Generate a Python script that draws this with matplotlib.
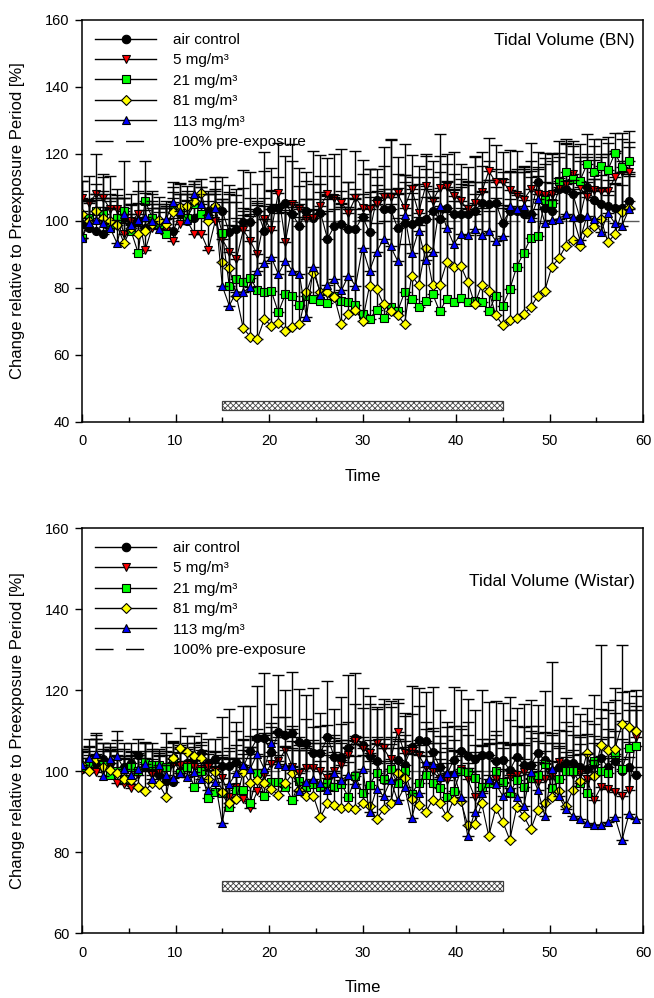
import numpy as np
import matplotlib.pyplot as plt
from matplotlib.lines import Line2D
from matplotlib.patches import Rectangle

plt.rcParams['font.family'] = ['Liberation Sans', 'DejaVu Sans']
plt.rcParams['hatch.linewidth'] = 0.6

labels = ['air control', '5 mg/m³', '21 mg/m³', '81 mg/m³', '113 mg/m³']
colors = ['#000000', '#ff0000', '#00ff00', '#ffff00', '#0000ff']
markers = ['o', 'v', 's', 'D', '^']
msizes = [5.8, 6.0, 5.4, 5.2, 6.0]

# ---- Tidal Volume (BN), one point every 0.75 min
time_bn = np.arange(79) * 0.75
air_bn = [99, 98, 97, 96, 99, 100, 101, 99, 100, 98, 101, 99, 97, 97, 102, 100, 101, 102, 103, 104,
          103, 96.6, 97.5, 99.7, 99.7, 103, 97, 103.7, 104, 105.4, 102, 98.5, 103, 101, 102.5, 94.7, 98.5, 99, 97.5, 97.6,
          101.3, 96.6, 106.4, 103.5, 103.5, 98, 99.5, 99, 100, 100.5, 103, 100.5, 104, 102, 102, 102, 103, 105.4, 105, 105.5,
          99.5, 103, 103, 102, 102, 111.6, 104, 103, 109.4, 109.4, 108, 101, 110, 106.4, 105, 104.4, 104, 104, 106]
mg5_bn = [107, 105.5, 108, 107, 103.5, 103.5, 96, 100, 102, 91.3, 98, 99, 97, 94, 99, 100, 96.2, 96.2, 91.3, 100,
          94.5, 90.8, 88.6, 97.3, 94, 90, 100.7, 97.3, 108.4, 93.7, 105, 103.7, 100.5, 101, 104.6, 107.9, 107, 105.5, 102.5, 107,
          104, 103.5, 105, 107.2, 107.2, 108.2, 104, 109.6, 102.5, 110.4, 106, 109.9, 110, 107.5, 106, 103.5, 105.5, 108.6, 114.9, 111.6,
          111.6, 109.2, 107.6, 106.4, 109.4, 108, 107.7, 108, 110, 111, 113.9, 110, 107.2, 109.2, 109, 109, 113, 114.6, 114.6]
mg21_bn = [95, 101, 103, 102, 98, 101, 103, 97, 90.5, 106, 101, 99, 96, 104, 103, 101, 105, 102, 101, 104,
           96.5, 80.6, 82.8, 81.8, 83, 79.3, 78.8, 79, 72.7, 78.2, 77.7, 75, 77.7, 76.7, 76, 75.5, 77.7, 76.2, 75.9, 75,
           72.2, 70.7, 73.5, 71, 74.2, 73, 78.7, 76.7, 74.2, 76.2, 78.2, 73, 76.7, 75.9, 76.9, 75.9, 76, 75.9, 73, 77.7,
           74.7, 79.6, 86.4, 90.5, 95, 95.5, 106.4, 105.4, 111.9, 114.5, 112.4, 111.9, 116.9, 114.6, 116.4, 115.2, 120.3, 116.2, 117.8]
mg81_bn = [102, 100, 103, 101, 100, 98.7, 93.3, 98, 96, 97, 99, 100.2, 99, 102.6, 104.3, 104.5, 106, 108.4, 100, 104.5,
           87.6, 86.1, 77.7, 67.9, 65.5, 64.8, 70.7, 68.7, 69.5, 67.3, 68.3, 69.2, 78.7, 84.6, 78.7, 78.7, 77.2, 69.2, 72.2, 73.5,
           70.2, 80.6, 79.6, 75.2, 73.2, 71.9, 69.2, 83.7, 80.9, 91.9, 80.9, 80.9, 87.6, 86.4, 86.6, 81.9, 75.2, 80.9, 79.2, 71.9,
           68.9, 70.5, 70.9, 72.2, 74.2, 77.7, 79.2, 86.4, 88.8, 92.6, 94.4, 92.6, 96.8, 98.6, 100.6, 93.6, 96.1, 102.7, 104]
mg113_bn = [95, 99.3, 100.3, 99.3, 98, 93.3, 102, 98.7, 100.3, 101.3, 100, 97.6, 100.5, 105.6, 103, 100.3, 108, 105.2, 101.9, 103.9,
            80.6, 74.7, 78.8, 78.7, 80.4, 85.1, 87.4, 89.1, 84.1, 88.1, 85.1, 84.1, 71.2, 86.3, 78, 81, 82.7, 79.3, 83.7, 80.6,
            92, 85.1, 90.8, 94.5, 92.4, 88.1, 101.7, 90.4, 97.1, 88.4, 90.8, 104.6, 98, 93.1, 96, 95.7, 97.5, 95.7, 97.1, 94.1,
            95.5, 104.6, 103.6, 104.6, 101, 106.6, 99.5, 100.3, 100.7, 102, 101.3, 94.3, 101.5, 100.5, 96.7, 102.3, 99.3, 98.6, 103.5]

air_bn_err = [13, 8, 10, 18, 8, 7, 6, 9, 12, 20, 8, 6, 7, 10, 6, 9, 7, 8, 6, 9,
              10, 14, 12, 10, 15, 8, 18, 12, 9, 14, 16, 12, 9, 20, 11, 13, 15, 10, 14, 12,
              17, 19, 9, 13, 21, 16, 12, 14, 11, 15, 10, 19, 13, 12, 8, 14, 16, 11, 13, 10,
              15, 12, 18, 14, 16, 9, 13, 17, 11, 14, 12, 18, 10, 16, 15, 19, 17, 14, 16]
mg5_bn_err = [5, 8, 12, 6, 10, 6, 8, 5, 7, 12, 6, 5, 9, 7, 6, 8, 11, 5, 10, 8,
              12, 15, 10, 18, 8, 16, 20, 12, 15, 9, 18, 12, 14, 10, 15, 11, 13, 16, 9, 14,
              10, 12, 8, 15, 17, 11, 19, 10, 14, 9, 12, 16, 10, 13, 11, 8, 14, 12, 10, 11,
              9, 12, 8, 10, 14, 8, 11, 10, 9, 12, 10, 8, 12, 9, 10, 11, 8, 10, 9]
mg21_bn_err = [6, 5, 8, 5, 10, 6, 15, 5, 8, 6, 7, 5, 9, 6, 8, 5, 7, 6, 5, 8,
               10, 28, 25, 22, 24, 26, 28, 30, 32, 26, 28, 30, 29, 27, 35, 32, 30, 28, 31, 33,
               30, 34, 26, 29, 31, 28, 35, 30, 27, 31, 29, 28, 26, 30, 27, 29, 32, 28, 30, 27,
               30, 27, 22, 25, 20, 18, 14, 15, 12, 10, 10, 11, 9, 10, 8, 10, 6, 10, 9]
mg81_bn_err = [7, 6, 5, 8, 6, 9, 6, 7, 5, 8, 6, 7, 5, 6, 7, 6, 5, 4, 8, 5,
               18, 22, 28, 35, 38, 40, 30, 35, 33, 36, 34, 32, 28, 22, 30, 28, 30, 36, 32, 33,
               30, 28, 31, 33, 35, 38, 24, 27, 18, 28, 26, 22, 24, 23, 26, 30, 27, 28, 33, 35,
               35, 33, 32, 30, 28, 26, 25, 20, 20, 17, 15, 16, 12, 14, 13, 14, 15, 12, 10]
mg113_bn_err = [8, 7, 6, 5, 6, 7, 5, 6, 5, 7, 6, 5, 4, 6, 5, 6, 4, 5, 6, 5,
                20, 24, 22, 23, 21, 18, 17, 16, 20, 17, 19, 20, 30, 17, 24, 22, 21, 25, 20, 23,
                16, 22, 18, 15, 17, 20, 12, 18, 16, 21, 18, 10, 14, 16, 15, 15, 14, 16, 15, 16,
                17, 10, 11, 10, 12, 9, 12, 11, 12, 10, 11, 14, 10, 12, 13, 10, 12, 12, 10]

# ---- Tidal Volume (Wistar)
time_wi = np.arange(80) * 0.75
air_wi = [100.4, 102, 101, 103, 102, 100, 101, 102, 104, 101, 100, 99, 97.5, 97.4, 100, 102, 103, 104.4, 102, 103,
          101.3, 101.3, 102.2, 101, 105, 108.1, 108.1, 104.6, 109.7, 108.9, 109.4, 107.2, 106.8, 104.4, 104.4, 108.3, 103.4, 103.4, 105.6, 108.1,
          106.5, 103.6, 102.4, 97.8, 100.4, 102.7, 101.5, 106, 107.6, 107.4, 104.8, 101, 99, 102.7, 105, 103.8, 103, 104, 104, 102.4,
          102.7, 100.2, 103.5, 101.5, 101.5, 104.4, 102.7, 100, 101, 102.1, 102.1, 101, 100.5, 101.8, 103.2, 101, 102.4, 100, 101, 99]
mg5_wi = [100.2, 101, 99.8, 101, 102, 97, 96.8, 95.7, 99, 101, 99, 100, 101, 101.8, 101.5, 101.5, 101, 100.5, 101, 100,
          98.3, 93.6, 96, 93.1, 90.9, 95, 99, 101.8, 102.4, 105.3, 101, 99.5, 100.8, 100.8, 100, 98.3, 100, 101.6, 104, 107.5,
          105.6, 104.5, 106.8, 105.6, 102.9, 109.7, 104.4, 105, 104, 101, 100, 98, 97.8, 99, 100.5, 98, 93.6, 95, 96.7, 98,
          97, 98.6, 99, 99.8, 98, 97.3, 98, 98.8, 102.2, 100, 99, 99.5, 98.1, 92.8, 96, 95.5, 94.8, 93.8, 95.2, 108.5]
mg21_wi = [101, 102, 103, 101.4, 99, 100, 98, 101, 100, 102.2, 101.5, 101.5, 101, 103, 99.5, 101, 96, 100.1, 93.3, 94.9,
           94.5, 91.1, 95.3, 95.3, 92.2, 99.4, 93.8, 97.3, 97.3, 96.1, 92.8, 97.5, 96.1, 96.7, 96.1, 97, 96.1, 96.7, 93.6, 98.7,
           94.5, 96.6, 99.4, 98, 100.4, 97, 100, 94.4, 97, 99, 97, 95.8, 93.7, 95.1, 100, 99.8, 98.4, 96.1, 97, 100,
           97.2, 94.5, 97.8, 96, 98.2, 99, 101.7, 95.9, 98, 100, 100, 97, 94.5, 102.5, 100, 99.4, 104.3, 100.4, 105.8, 106.1]
mg81_wi = [101.6, 100, 103, 101, 100.2, 99.4, 98.1, 97.8, 96.1, 95.1, 97, 96.7, 93.6, 103.1, 105.6, 104.6, 103.6, 103.1, 98.1, 99.8,
           94.9, 92, 93.1, 99.8, 97, 97.7, 97, 95.6, 94, 97, 99.4, 95.3, 93.8, 93.8, 88.6, 92, 91.6, 90.8, 91.2, 90.6,
           92, 91.4, 88.1, 90.6, 92, 99.4, 98.4, 93.1, 91.6, 89.8, 92.9, 92, 88.9, 92.9, 92.7, 86.7, 87, 92, 84, 90.8,
           87.5, 83, 91.1, 88.9, 85.6, 90.3, 92, 93.6, 95.1, 91.4, 95.3, 97.6, 104.4, 98.7, 106.4, 105.1, 105.5, 111.6, 110.8, 110]
mg113_wi = [101.4, 103.3, 104.3, 98.7, 103, 103.6, 100.5, 98.9, 100.5, 101.8, 98.1, 101.5, 98.9, 98.3, 99.4, 98.5, 99.8, 98.1, 95.2, 97.3,
            87.1, 96.9, 99.4, 101.6, 100.6, 104.3, 100.5, 106.8, 101.8, 101.3, 101.3, 95.1, 97.3, 98, 97, 95.2, 99.4, 97.9, 98.9, 96.7,
            100.4, 89.9, 95.6, 93.8, 97.7, 92.8, 96, 88.3, 94.5, 102.3, 101.7, 98.6, 99.6, 99.6, 93.7, 84, 89.9, 94.5, 98, 96.9,
            93.8, 95.7, 93.7, 91.4, 99.8, 95.3, 88.9, 100.4, 93.8, 90.6, 88.9, 88.1, 87.1, 86.7, 86.7, 87.3, 88.6, 82.9, 89.4, 88.1]

air_wi_err = [5, 6, 8, 4, 5, 10, 6, 5, 4, 6, 7, 5, 12, 10, 6, 5, 4, 5, 6, 5,
              12, 14, 10, 15, 11, 13, 16, 12, 14, 11, 15, 13, 12, 16, 10, 14, 12, 15, 18, 16,
              14, 15, 13, 20, 17, 14, 12, 15, 13, 12, 16, 14, 13, 18, 15, 14, 12, 16, 13, 15,
              14, 18, 12, 15, 16, 12, 17, 27, 15, 16, 14, 13, 15, 17, 28, 16, 18, 31, 14, 16]
mg5_wi_err = [3, 5, 4, 6, 4, 8, 7, 9, 5, 4, 6, 5, 4, 3, 5, 4, 5, 6, 4, 5,
              10, 12, 14, 11, 15, 13, 10, 9, 11, 8, 10, 9, 12, 10, 11, 13, 9, 10, 8, 9,
              10, 12, 9, 11, 13, 8, 10, 9, 12, 11, 10, 9, 13, 12, 10, 14, 11, 13, 10, 12,
              10, 14, 12, 11, 13, 12, 9, 10, 8, 12, 10, 9, 11, 14, 12, 13, 15, 14, 12, 10]
mg21_wi_err = [4, 3, 5, 4, 6, 4, 5, 3, 4, 5, 4, 3, 5, 4, 6, 4, 8, 5, 9, 7,
               9, 12, 8, 10, 11, 9, 10, 12, 11, 10, 13, 9, 10, 11, 9, 10, 12, 11, 14, 10,
               12, 11, 9, 10, 8, 11, 9, 12, 10, 8, 10, 9, 12, 10, 11, 9, 8, 10, 11, 9,
               10, 12, 9, 11, 10, 12, 8, 11, 9, 10, 11, 12, 10, 9, 13, 11, 10, 12, 11, 10]
mg81_wi_err = [3, 4, 5, 4, 5, 6, 5, 6, 7, 8, 6, 7, 8, 4, 5, 4, 5, 4, 6, 5,
               9, 11, 10, 8, 9, 10, 11, 12, 10, 9, 8, 10, 12, 11, 14, 12, 13, 12, 11, 13,
               12, 11, 14, 12, 10, 8, 9, 12, 13, 14, 12, 11, 13, 12, 11, 14, 13, 12, 15, 12,
               13, 16, 12, 14, 15, 12, 10, 9, 11, 12, 10, 9, 8, 10, 9, 10, 12, 8, 9, 10]
mg113_wi_err = [4, 3, 5, 4, 3, 4, 5, 6, 4, 5, 3, 4, 5, 4, 5, 4, 3, 4, 5, 4,
                16, 8, 7, 6, 8, 6, 9, 5, 8, 7, 9, 10, 8, 9, 10, 11, 8, 9, 7, 10,
                8, 14, 11, 12, 9, 13, 10, 16, 12, 8, 9, 10, 9, 8, 11, 18, 14, 12, 9, 10,
                12, 11, 13, 15, 10, 12, 16, 9, 12, 14, 15, 16, 17, 16, 17, 16, 15, 20, 14, 13]

exposure_start, exposure_end = 15, 45
dash = (13, 8.6)


def draw_panel(ax, t, series, errors, ylim, title, title_y, bar):
    ax.plot([0, 59.6], [100, 100], color='0.35', lw=1.0, dashes=dash, zorder=1)
    for k, (vals, err) in enumerate(zip(series, errors)):
        err = np.asarray(err, dtype=float)
        ax.errorbar(t, vals, yerr=[np.zeros_like(err), err], fmt='none', ecolor='black',
                    elinewidth=1.0, capsize=4, capthick=1.0, zorder=2 + 2 * k)
        ax.plot(t, vals, color='black', lw=0.8, marker=markers[k], ms=msizes[k],
                mfc=colors[k], mec='black', mew=0.8, zorder=3 + 2 * k)
    ax.add_patch(Rectangle((exposure_start, bar[0]), exposure_end - exposure_start, bar[1] - bar[0],
                           facecolor='white', edgecolor='0.25', hatch='xxxxxx', lw=0.9, zorder=20))
    ax.set_xlim(0, 60)
    ax.set_ylim(*ylim)
    ax.set_xticks(range(0, 61, 10))
    ax.set_xticks(range(5, 60, 10), minor=True)
    ax.set_yticks(range(ylim[0], ylim[1] + 1, 20))
    ax.tick_params(axis='x', which='major', direction='in', length=6, width=1, labelsize=10.5, pad=9)
    ax.tick_params(axis='x', which='minor', direction='in', length=3.5, width=1)
    ax.tick_params(axis='y', direction='out', length=5, width=1, labelsize=10.5, pad=4)
    for s in ax.spines.values():
        s.set_linewidth(1.1)
    ax.set_xlabel('Time', fontsize=12, labelpad=15)
    ax.text(0.985, title_y, title, transform=ax.transAxes, ha='right', va='center', fontsize=12.5)

    handles = [Line2D([], [], color='black', lw=1, marker=markers[k], ms=msizes[k] + 0.3,
                      mfc=colors[k], mec='black', mew=0.8) for k in range(5)]
    handles.append(Line2D([], [], color='black', lw=1, dashes=(13, 9)))
    ax.legend(handles, labels + ['100% pre-exposure'], loc='upper left', frameon=False,
              fontsize=11, handlelength=4.0, handletextpad=1.1, labelspacing=0.42,
              borderpad=0.35, borderaxespad=0.5)


fig = plt.figure(figsize=(6.54, 9.98), dpi=100)
ax1 = fig.add_axes([0.1254, 0.5772, 0.8578, 0.4028])
ax2 = fig.add_axes([0.1254, 0.0651, 0.8578, 0.4058])

draw_panel(ax1, time_bn, [air_bn, mg5_bn, mg21_bn, mg81_bn, mg113_bn],
           [air_bn_err, mg5_bn_err, mg21_bn_err, mg81_bn_err, mg113_bn_err],
           (40, 160), 'Tidal Volume (BN)', 0.948, (43.6, 46.3))
draw_panel(ax2, time_wi, [air_wi, mg5_wi, mg21_wi, mg81_wi, mg113_wi],
           [air_wi_err, mg5_wi_err, mg21_wi_err, mg81_wi_err, mg113_wi_err],
           (60, 160), 'Tidal Volume (Wistar)', 0.869, (70.4, 72.8))

ylab = 'Change relative to Preexposure Period [%]'
fig.text(18 / 654, 0.5772 + 0.4028 / 2, ylab, rotation=90, ha='center', va='center', fontsize=12)
fig.text(18 / 654, 0.0651 + 0.4058 / 2, ylab, rotation=90, ha='center', va='center', fontsize=12)

fig.savefig('out.png', dpi=100)
